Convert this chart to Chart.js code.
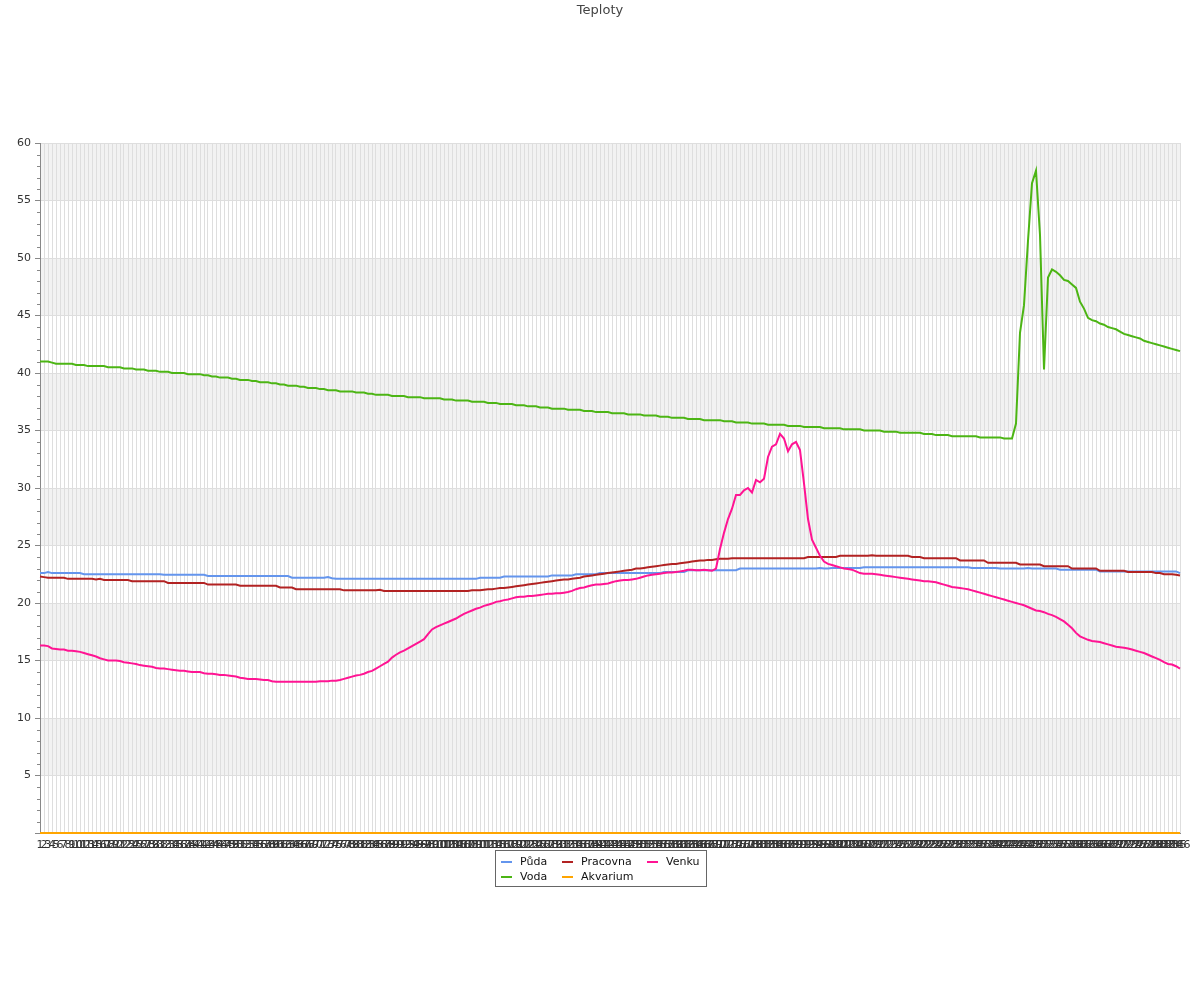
<!DOCTYPE html>
<html>
<head>
<meta charset="utf-8">
<title>Teploty</title>
<script src="https://cdn.jsdelivr.net/npm/chart.js@4/dist/chart.umd.min.js"></script>
<style>
  html, body { margin: 0; padding: 0; background: #fff; }
  #wrap { width: 1200px; height: 1000px; }
</style>
</head>
<body>
<div id="wrap"><canvas id="canvas" width="1200" height="1000"></canvas></div>
<script>
// x categories are the sample numbers 1..286
const labels = Array.from({ length: 286 }, (_, i) => String(i + 1));
const yTicks = [0, 5, 10, 15, 20, 25, 30, 35, 40, 45, 50, 55, 60];

const puda = [
  22.6,22.6,22.7,22.6,22.6,22.6,22.6,22.6,22.6,22.6,
  22.6,22.5,22.5,22.5,22.5,22.5,22.5,22.5,22.5,22.5,
  22.5,22.5,22.5,22.5,22.5,22.5,22.5,22.5,22.5,22.5,
  22.5,22.45,22.45,22.45,22.45,22.45,22.45,22.45,22.45,22.45,
  22.45,22.45,22.35,22.35,22.35,22.35,22.35,22.35,22.35,22.35,
  22.35,22.35,22.35,22.35,22.35,22.35,22.35,22.35,22.35,22.35,
  22.35,22.35,22.35,22.2,22.2,22.2,22.2,22.2,22.2,22.2,
  22.2,22.2,22.25,22.15,22.1,22.1,22.1,22.1,22.1,22.1,
  22.1,22.1,22.1,22.1,22.1,22.1,22.1,22.1,22.1,22.1,
  22.1,22.1,22.1,22.1,22.1,22.1,22.1,22.1,22.1,22.1,
  22.1,22.1,22.1,22.1,22.1,22.1,22.1,22.1,22.1,22.1,
  22.2,22.2,22.2,22.2,22.2,22.2,22.3,22.3,22.3,22.3,
  22.3,22.3,22.3,22.3,22.3,22.3,22.3,22.3,22.4,22.4,
  22.4,22.4,22.4,22.4,22.5,22.5,22.5,22.5,22.5,22.5,
  22.6,22.6,22.6,22.6,22.6,22.6,22.6,22.6,22.6,22.6,
  22.6,22.6,22.6,22.6,22.6,22.6,22.7,22.7,22.7,22.7,
  22.7,22.7,22.85,22.85,22.85,22.85,22.85,22.85,22.85,22.85,
  22.85,22.85,22.85,22.85,22.85,23.0,23.0,23.0,23.0,23.0,
  23.0,23.0,23.0,23.0,23.0,23.0,23.0,23.0,23.0,23.0,
  23.0,23.0,23.0,23.0,23.0,23.05,23.0,23.0,23.05,23.05,
  23.05,23.05,23.05,23.05,23.05,23.05,23.1,23.1,23.1,23.1,
  23.1,23.1,23.1,23.1,23.1,23.1,23.1,23.1,23.1,23.1,
  23.1,23.1,23.1,23.1,23.1,23.1,23.1,23.1,23.1,23.1,
  23.1,23.1,23.1,23.05,23.05,23.05,23.05,23.05,23.05,23.05,
  23.0,23.0,23.0,23.0,23.0,23.0,23.0,23.05,23.0,23.0,
  23.0,23.0,23.0,23.0,23.0,22.9,22.9,22.9,22.9,22.9,
  22.9,22.9,22.9,22.9,22.9,22.75,22.75,22.75,22.75,22.75,
  22.75,22.75,22.75,22.75,22.75,22.75,22.75,22.75,22.75,22.75,
  22.75,22.75,22.75,22.75,22.75,22.6
];

const voda = [
  41.0,41.0,41.0,40.9,40.8,40.8,40.8,40.8,40.8,40.7,
  40.7,40.7,40.6,40.6,40.6,40.6,40.6,40.5,40.5,40.5,
  40.5,40.4,40.4,40.4,40.3,40.3,40.3,40.2,40.2,40.2,
  40.1,40.1,40.1,40.0,40.0,40.0,40.0,39.9,39.9,39.9,
  39.9,39.8,39.8,39.7,39.7,39.6,39.6,39.6,39.5,39.5,
  39.4,39.4,39.4,39.3,39.3,39.2,39.2,39.2,39.1,39.1,
  39.0,39.0,38.9,38.9,38.9,38.8,38.8,38.7,38.7,38.7,
  38.6,38.6,38.5,38.5,38.5,38.4,38.4,38.4,38.4,38.3,
  38.3,38.3,38.2,38.2,38.1,38.1,38.1,38.1,38.0,38.0,
  38.0,38.0,37.9,37.9,37.9,37.9,37.8,37.8,37.8,37.8,
  37.8,37.7,37.7,37.7,37.6,37.6,37.6,37.6,37.5,37.5,
  37.5,37.5,37.4,37.4,37.4,37.3,37.3,37.3,37.3,37.2,
  37.2,37.2,37.1,37.1,37.1,37.0,37.0,37.0,36.9,36.9,
  36.9,36.9,36.8,36.8,36.8,36.8,36.7,36.7,36.7,36.6,
  36.6,36.6,36.6,36.5,36.5,36.5,36.5,36.4,36.4,36.4,
  36.4,36.3,36.3,36.3,36.3,36.2,36.2,36.2,36.1,36.1,
  36.1,36.1,36.0,36.0,36.0,36.0,35.9,35.9,35.9,35.9,
  35.9,35.8,35.8,35.8,35.7,35.7,35.7,35.7,35.6,35.6,
  35.6,35.6,35.5,35.5,35.5,35.5,35.5,35.4,35.4,35.4,
  35.4,35.3,35.3,35.3,35.3,35.3,35.2,35.2,35.2,35.2,
  35.2,35.1,35.1,35.1,35.1,35.1,35.0,35.0,35.0,35.0,
  35.0,34.9,34.9,34.9,34.9,34.8,34.8,34.8,34.8,34.8,
  34.8,34.7,34.7,34.7,34.6,34.6,34.6,34.6,34.5,34.5,
  34.5,34.5,34.5,34.5,34.5,34.4,34.4,34.4,34.4,34.4,
  34.4,34.3,34.3,34.3,35.6,43.5,45.9,51.5,56.5,57.6,
  52.0,40.3,48.3,49.0,48.8,48.5,48.1,48.0,47.7,47.4,
  46.2,45.6,44.8,44.6,44.5,44.3,44.2,44.0,43.9,43.8,
  43.6,43.4,43.3,43.2,43.1,43.0,42.8,42.7,42.6,42.5,
  42.4,42.3,42.2,42.1,42.0,41.9
];

const pracovna = [
  22.3,22.25,22.2,22.2,22.2,22.2,22.2,22.1,22.1,22.1,
  22.1,22.1,22.1,22.1,22.05,22.1,22.0,22.0,22.0,22.0,
  22.0,22.0,22.0,21.9,21.9,21.9,21.9,21.9,21.9,21.9,
  21.9,21.9,21.75,21.75,21.75,21.75,21.75,21.75,21.75,21.75,
  21.75,21.75,21.6,21.6,21.6,21.6,21.6,21.6,21.6,21.6,
  21.5,21.5,21.5,21.5,21.5,21.5,21.5,21.5,21.5,21.5,
  21.35,21.35,21.35,21.35,21.2,21.2,21.2,21.2,21.2,21.2,
  21.2,21.2,21.2,21.2,21.2,21.2,21.1,21.1,21.1,21.1,
  21.1,21.1,21.1,21.1,21.1,21.15,21.05,21.05,21.05,21.05,
  21.05,21.05,21.05,21.05,21.05,21.05,21.05,21.05,21.05,21.05,
  21.05,21.05,21.05,21.05,21.05,21.05,21.05,21.05,21.1,21.1,
  21.1,21.15,21.2,21.2,21.25,21.3,21.3,21.35,21.4,21.45,
  21.5,21.55,21.6,21.65,21.7,21.75,21.8,21.85,21.9,21.95,
  22.0,22.05,22.05,22.1,22.15,22.2,22.3,22.35,22.4,22.45,
  22.5,22.55,22.6,22.65,22.7,22.75,22.8,22.85,22.9,23.0,
  23.0,23.05,23.1,23.15,23.2,23.25,23.3,23.35,23.4,23.4,
  23.45,23.5,23.55,23.6,23.65,23.7,23.7,23.75,23.75,23.8,
  23.85,23.85,23.85,23.9,23.9,23.9,23.9,23.9,23.9,23.9,
  23.9,23.9,23.9,23.9,23.9,23.9,23.9,23.9,23.9,23.9,
  23.9,23.9,24.0,24.0,24.0,24.0,24.0,24.0,24.0,24.0,
  24.1,24.1,24.1,24.1,24.1,24.1,24.1,24.1,24.15,24.1,
  24.1,24.1,24.1,24.1,24.1,24.1,24.1,24.1,24.0,24.0,
  24.0,23.9,23.9,23.9,23.9,23.9,23.9,23.9,23.9,23.9,
  23.7,23.7,23.7,23.7,23.7,23.7,23.7,23.5,23.5,23.5,
  23.5,23.5,23.5,23.5,23.5,23.35,23.35,23.35,23.35,23.35,
  23.35,23.2,23.2,23.2,23.2,23.2,23.2,23.2,23.0,23.0,
  23.0,23.0,23.0,23.0,23.0,22.8,22.8,22.8,22.8,22.8,
  22.8,22.8,22.7,22.7,22.7,22.7,22.7,22.7,22.7,22.6,
  22.6,22.5,22.5,22.5,22.45,22.4
];

const akvarium = [
  0,0,0,0,0,0,0,0,0,0, 0,0,0,0,0,0,0,0,0,0, 0,0,0,0,0,0,0,0,0,0,
  0,0,0,0,0,0,0,0,0,0, 0,0,0,0,0,0,0,0,0,0, 0,0,0,0,0,0,0,0,0,0,
  0,0,0,0,0,0,0,0,0,0, 0,0,0,0,0,0,0,0,0,0, 0,0,0,0,0,0,0,0,0,0,
  0,0,0,0,0,0,0,0,0,0, 0,0,0,0,0,0,0,0,0,0, 0,0,0,0,0,0,0,0,0,0,
  0,0,0,0,0,0,0,0,0,0, 0,0,0,0,0,0,0,0,0,0, 0,0,0,0,0,0,0,0,0,0,
  0,0,0,0,0,0,0,0,0,0, 0,0,0,0,0,0,0,0,0,0, 0,0,0,0,0,0,0,0,0,0,
  0,0,0,0,0,0,0,0,0,0, 0,0,0,0,0,0,0,0,0,0, 0,0,0,0,0,0,0,0,0,0,
  0,0,0,0,0,0,0,0,0,0, 0,0,0,0,0,0,0,0,0,0, 0,0,0,0,0,0,0,0,0,0,
  0,0,0,0,0,0,0,0,0,0, 0,0,0,0,0,0,0,0,0,0, 0,0,0,0,0,0,0,0,0,0,
  0,0,0,0,0,0,0,0,0,0, 0,0,0,0,0,0
];

const venku = [
  16.3,16.3,16.25,16.05,16.0,15.95,15.95,15.85,15.85,15.8,
  15.75,15.65,15.55,15.45,15.35,15.2,15.1,15.0,15.0,15.0,
  14.95,14.85,14.8,14.75,14.7,14.6,14.55,14.5,14.45,14.35,
  14.3,14.3,14.25,14.2,14.15,14.1,14.1,14.05,14.0,14.0,
  14.0,13.9,13.85,13.85,13.8,13.75,13.75,13.7,13.65,13.6,
  13.5,13.45,13.4,13.4,13.4,13.35,13.3,13.3,13.2,13.15,
  13.15,13.15,13.15,13.15,13.15,13.15,13.15,13.15,13.15,13.15,
  13.2,13.2,13.2,13.25,13.25,13.3,13.4,13.5,13.6,13.7,
  13.75,13.85,14.0,14.1,14.3,14.5,14.7,14.9,15.25,15.5,
  15.7,15.85,16.05,16.25,16.45,16.65,16.85,17.3,17.7,17.9,
  18.05,18.2,18.35,18.5,18.65,18.85,19.05,19.2,19.35,19.5,
  19.6,19.75,19.85,19.95,20.1,20.15,20.25,20.3,20.4,20.5,
  20.55,20.55,20.6,20.6,20.65,20.7,20.75,20.8,20.8,20.85,
  20.85,20.9,20.95,21.05,21.2,21.3,21.35,21.45,21.55,21.6,
  21.6,21.65,21.7,21.8,21.9,21.95,22.0,22.0,22.05,22.1,
  22.2,22.3,22.4,22.45,22.5,22.55,22.6,22.65,22.65,22.7,
  22.75,22.8,22.9,22.9,22.85,22.85,22.9,22.85,22.8,23.0,
  24.7,26.1,27.3,28.2,29.4,29.4,29.8,30.0,29.6,30.7,
  30.5,30.8,32.7,33.6,33.8,34.7,34.3,33.2,33.8,34.0,
  33.3,30.4,27.3,25.5,24.8,24.1,23.6,23.4,23.3,23.2,
  23.1,23.0,22.95,22.9,22.75,22.6,22.55,22.55,22.55,22.5,
  22.45,22.4,22.35,22.3,22.25,22.2,22.15,22.1,22.05,22.0,
  21.95,21.9,21.9,21.85,21.8,21.7,21.6,21.5,21.4,21.35,
  21.3,21.25,21.2,21.1,21.0,20.9,20.8,20.7,20.6,20.5,
  20.4,20.3,20.2,20.1,20.0,19.9,19.8,19.65,19.5,19.35,
  19.3,19.2,19.05,18.95,18.8,18.6,18.4,18.1,17.8,17.4,
  17.1,16.95,16.8,16.7,16.65,16.6,16.5,16.4,16.3,16.2,
  16.15,16.1,16.05,15.95,15.85,15.75,15.65,15.5,15.35,15.2,
  15.05,14.85,14.7,14.65,14.5,14.3
];

const FONT = '"DejaVu Sans", sans-serif';

// legend is drawn by hand: 3 aligned columns in a boxed frame
const legendCols = [501, 562, 647];
const legendRows = [862, 877];
const legendSlots = [[0, 0], [0, 1], [1, 0], [1, 1], [2, 0]]; // [col,row] per dataset

const chrome = {
  id: 'chrome',
  beforeDraw(chart) {
    const { ctx, chartArea: a, scales: { y } } = chart;
    ctx.save();
    ctx.fillStyle = '#f2f2f2';
    for (let v = 5; v < 60; v += 10) {
      const top = y.getPixelForValue(v + 5), bot = y.getPixelForValue(v);
      ctx.fillRect(a.left, top, a.right - a.left, bot - top);
    }
    ctx.restore();
  },
  afterDraw(chart) {
    const { ctx, chartArea: a, scales: { y } } = chart;
    ctx.save();
    // title
    ctx.fillStyle = '#444';
    ctx.font = '13px ' + FONT;
    ctx.textAlign = 'center';
    ctx.textBaseline = 'middle';
    ctx.fillText('Teploty', 600, 11);

    // minor ticks on y axis
    ctx.strokeStyle = '#888';
    ctx.lineWidth = 1;
    ctx.beginPath();
    for (let v = 1; v < 60; v++) {
      if (v % 5 === 0) continue;
      const py = Math.round(y.getPixelForValue(v)) + 0.5;
      ctx.moveTo(a.left - 3, py);
      ctx.lineTo(a.left, py);
    }
    ctx.stroke();

    // legend
    ctx.fillStyle = '#fff';
    ctx.fillRect(495.5, 850.5, 211, 36);
    ctx.strokeStyle = '#666';
    ctx.strokeRect(495.5, 850.5, 211, 36);
    ctx.font = '11px ' + FONT;
    ctx.textAlign = 'left';
    ctx.textBaseline = 'middle';
    chart.data.datasets.forEach((ds, i) => {
      const [c, r] = legendSlots[i];
      const x = legendCols[c], yy = legendRows[r];
      ctx.strokeStyle = ds.borderColor;
      ctx.lineWidth = 2;
      ctx.beginPath();
      ctx.moveTo(x, yy);
      ctx.lineTo(x + 11, yy);
      ctx.stroke();
      ctx.fillStyle = '#111';
      ctx.fillText(ds.label, x + 19, yy);
    });
    ctx.restore();
  }
};

const series = { puda, voda, pracovna, akvarium, venku };
Object.keys(series).forEach(k => {
  if (series[k].length !== labels.length) console.error(k + ' has ' + series[k].length);
});

const line = (label, data, color, order) => ({
  label, data, borderColor: color, backgroundColor: color,
  borderWidth: 2, pointRadius: 0, tension: 0, fill: false, clip: false, order
});

const ctx = document.getElementById('canvas').getContext('2d');
const chart = new Chart(ctx, {
  type: 'line',
  data: {
    labels: labels,
    datasets: [
      line('Půda', puda, '#6495ed', 4),
      line('Voda', voda, '#4cb514', 3),
      line('Pracovna', pracovna, '#b22222', 2),
      line('Akvarium', akvarium, '#ffa500', 1),
      line('Venku', venku, '#ff1493', 0)
    ]
  },
  options: {
    responsive: false,
    animation: false,
    devicePixelRatio: 1,
    layout: { padding: { top: 143, right: 20, bottom: 147, left: 0 } },
    plugins: {
      legend: { display: false },
      title: { display: false },
      tooltip: { enabled: false }
    },
    scales: {
      x: {
        afterFit: s => { s.height = 20; },
        grid: { color: '#dedede', drawTicks: false },
        border: { color: '#888' },
        ticks: {
          autoSkip: false, maxRotation: 0, minRotation: 0,
          color: '#333', padding: 6, font: { family: FONT, size: 11 }
        }
      },
      y: {
        min: 0, max: 60,
        afterFit: s => { s.width = 40; },
        afterBuildTicks: s => { s.ticks = yTicks.map(v => ({ value: v })); },
        grid: { color: '#dedede', tickColor: '#888', tickLength: 5 },
        border: { color: '#888' },
        ticks: {
          color: '#333', padding: 4, font: { family: FONT, size: 11 },
          callback: v => (v === 0 ? '' : v)
        }
      }
    }
  },
  plugins: [chrome]
});
</script>
</body>
</html>
